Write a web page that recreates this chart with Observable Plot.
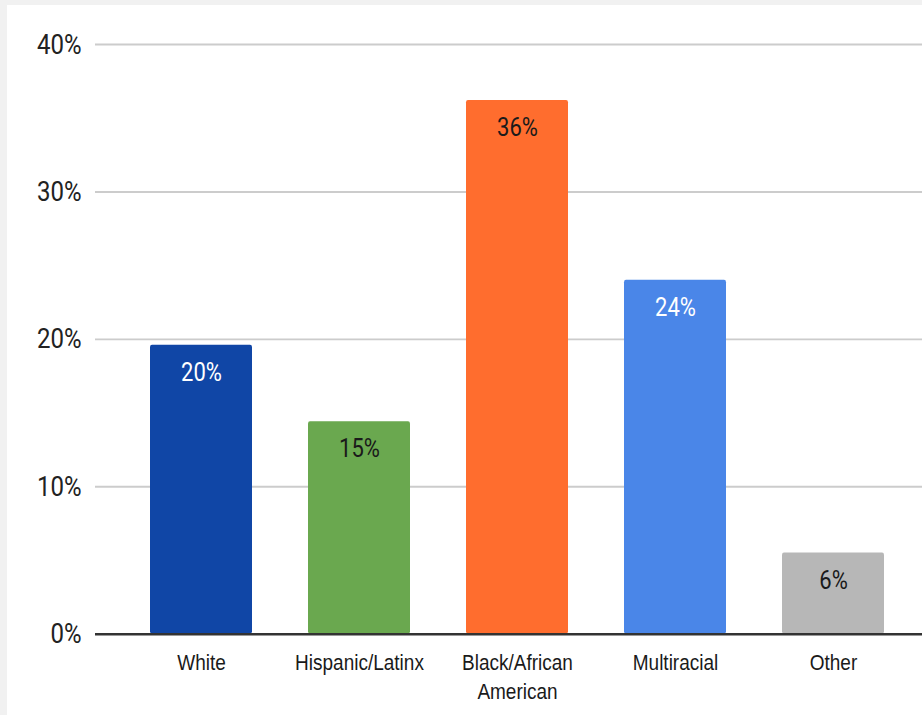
<!DOCTYPE html>
<html><head><meta charset="utf-8">
<script src="https://cdn.jsdelivr.net/npm/d3@7"></script>
<script src="https://cdn.jsdelivr.net/npm/@observablehq/plot@0.6"></script>
<style>
html,body{margin:0;padding:0;background:#f1f1f1;width:922px;height:715px;overflow:hidden;}
#wrap{position:absolute;left:7px;top:5px;width:915px;height:710px;background:#fff;}
</style></head><body><div id="wrap"></div>
<script>
const categories = ["White", "Hispanic/Latinx", "Black/African American", "Multiracial", "Other"];
const values = [19.6, 14.4, 36.2, 24.0, 5.5];
const valueLabels = ["20%", "15%", "36%", "24%", "6%"];
const barColors = ["#1046a6", "#6aa84f", "#ff6d2e", "#4a86e8", "#b7b7b7"];
const labelColors = ["#ffffff", "#1a1a1a", "#1a1a1a", "#ffffff", "#1a1a1a"];
const yTicks = [0, 10, 20, 30, 40];

const data = categories.map((c, i) => ({
  category: c, value: values[i], label: valueLabels[i], color: barColors[i], labelColor: labelColors[i]
}));

const S = 1.18; // vertical stretch of the reference
const H = Math.round(710 / S);

const plot = Plot.plot({
  width: 915, height: H,
  marginLeft: 88, marginRight: 0, marginTop: 33, marginBottom: H - 533,
  style: {fontFamily: "Roboto, sans-serif", background: "transparent", overflow: "visible", color: "#222"},
  x: {domain: categories, range: [115, 905], paddingInner: 0.355, paddingOuter: 0.1775, axis: null},
  y: {domain: [0, 40], axis: null},
  color: {type: "identity"},
  marks: [
    Plot.ruleY(yTicks.filter(d => d > 0), {stroke: "#cccccc", strokeWidth: 1.6}),
    Plot.barY(data, {x: "category", y: "value", fill: "color", rx: 2}),
    Plot.ruleY([0], {stroke: "#333333", strokeWidth: 2.2}),
    Plot.axisY(yTicks, {anchor: "left", label: null, tickSize: 0, tickPadding: 14, tickFormat: d => d + "%", fontSize: 24, fill: "#222"}),
    Plot.text(data, {x: "category", y: "value", text: "label", dy: 23, fill: "labelColor", fontSize: 22}),
    Plot.text(data, {x: "category", y: () => 0, text: d => d.category.replace("/African ", "/African\n"),
      dy: 13, lineAnchor: "top", lineHeight: 1.3, fontSize: 19, fontFamily: "'Liberation Sans', Arial, sans-serif", fill: "#1a1a1a"})
  ]
});
plot.setAttribute("preserveAspectRatio", "none");
plot.setAttribute("height", 710);
plot.style.height = "710px";
plot.style.maxWidth = "none";
document.getElementById("wrap").appendChild(plot);
</script>
</body></html>
